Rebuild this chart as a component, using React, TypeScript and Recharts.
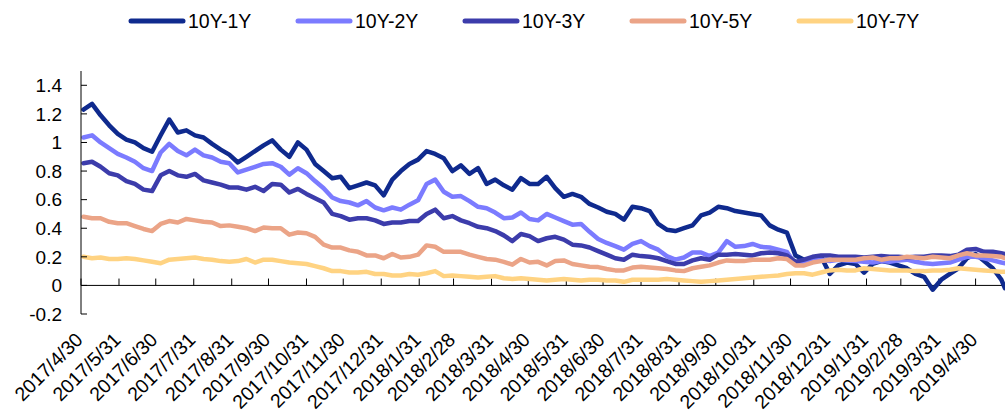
import React from 'react';
import { LineChart, Line, XAxis, YAxis, ReferenceLine, Legend } from 'recharts';

const dates = [
  '2017-05-02','2017-05-09','2017-05-16','2017-05-23','2017-05-30','2017-06-06','2017-06-13','2017-06-20','2017-06-27',
  '2017-07-04','2017-07-11','2017-07-18','2017-07-25','2017-08-01','2017-08-08','2017-08-15','2017-08-22','2017-08-29',
  '2017-09-05','2017-09-12','2017-09-19','2017-09-26','2017-10-03','2017-10-10','2017-10-17','2017-10-24','2017-10-31',
  '2017-11-07','2017-11-14','2017-11-21','2017-11-28','2017-12-05','2017-12-12','2017-12-19','2017-12-26',
  '2018-01-02','2018-01-09','2018-01-16','2018-01-23','2018-01-30','2018-02-06','2018-02-13','2018-02-20','2018-02-27',
  '2018-03-06','2018-03-13','2018-03-20','2018-03-27','2018-04-03','2018-04-10','2018-04-17','2018-04-24',
  '2018-05-01','2018-05-08','2018-05-15','2018-05-22','2018-05-29','2018-06-05','2018-06-12','2018-06-19','2018-06-26',
  '2018-07-03','2018-07-10','2018-07-17','2018-07-24','2018-07-31','2018-08-07','2018-08-14','2018-08-21','2018-08-28',
  '2018-09-04','2018-09-11','2018-09-18','2018-09-25','2018-10-02','2018-10-09','2018-10-16','2018-10-23','2018-10-30',
  '2018-11-06','2018-11-13','2018-11-20','2018-11-27','2018-12-04','2018-12-11','2018-12-18','2018-12-25',
  '2019-01-01','2019-01-08','2019-01-15','2019-01-22','2019-01-29','2019-02-05','2019-02-12','2019-02-19','2019-02-26',
  '2019-03-05','2019-03-12','2019-03-19','2019-03-26','2019-04-02','2019-04-09','2019-04-16','2019-04-23','2019-04-30',
  '2019-05-07','2019-05-14','2019-05-21','2019-05-24'
];

const y10m1 = [
  1.23,1.27,1.19,1.12,1.06,1.02,1.0,0.96,0.935,
  1.05,1.16,1.07,1.085,1.05,1.035,0.99,0.95,0.915,
  0.86,0.9,0.94,0.98,1.015,0.95,0.9,1.0,0.95,
  0.85,0.8,0.75,0.76,0.68,0.7,0.72,0.7,
  0.63,0.74,0.8,0.85,0.88,0.94,0.92,0.89,0.8,
  0.84,0.78,0.82,0.71,0.74,0.7,0.67,0.75,
  0.71,0.71,0.76,0.68,0.62,0.64,0.62,0.57,0.545,
  0.515,0.5,0.46,0.55,0.54,0.52,0.43,0.39,0.38,
  0.4,0.42,0.49,0.51,0.55,0.54,0.52,0.51,0.5,
  0.49,0.42,0.39,0.37,0.21,0.18,0.18,0.2,
  0.08,0.14,0.16,0.15,0.09,0.15,0.17,0.16,0.14,
  0.12,0.08,0.06,-0.03,0.04,0.08,0.12,0.19,0.22,
  0.17,0.12,0.04,-0.02
];

const y10m2 = [
  1.035,1.05,1.0,0.96,0.92,0.895,0.865,0.82,0.8,
  0.93,0.99,0.94,0.91,0.95,0.91,0.895,0.865,0.855,
  0.79,0.81,0.83,0.85,0.855,0.83,0.775,0.82,0.785,
  0.73,0.68,0.615,0.59,0.58,0.56,0.59,0.545,
  0.525,0.545,0.53,0.565,0.595,0.71,0.74,0.655,0.62,
  0.625,0.59,0.55,0.54,0.51,0.47,0.475,0.51,
  0.465,0.455,0.5,0.475,0.45,0.425,0.43,0.375,0.325,
  0.297,0.275,0.25,0.29,0.31,0.275,0.25,0.205,0.18,
  0.195,0.23,0.23,0.205,0.23,0.31,0.27,0.275,0.29,
  0.27,0.265,0.25,0.235,0.15,0.155,0.175,0.18,
  0.17,0.18,0.175,0.17,0.165,0.16,0.17,0.165,0.175,
  0.18,0.165,0.155,0.15,0.155,0.16,0.18,0.2,0.2,
  0.19,0.175,0.16,0.155
];

const y10m3 = [
  0.855,0.865,0.83,0.785,0.77,0.73,0.71,0.67,0.66,
  0.77,0.8,0.77,0.76,0.78,0.735,0.72,0.705,0.685,
  0.685,0.67,0.69,0.66,0.71,0.705,0.65,0.675,0.64,
  0.61,0.58,0.5,0.485,0.46,0.47,0.47,0.455,
  0.43,0.44,0.44,0.45,0.45,0.5,0.53,0.47,0.485,
  0.455,0.435,0.41,0.4,0.38,0.35,0.31,0.36,
  0.345,0.31,0.33,0.34,0.32,0.285,0.28,0.265,0.24,
  0.215,0.19,0.18,0.215,0.205,0.2,0.19,0.17,0.15,
  0.15,0.175,0.19,0.18,0.215,0.215,0.22,0.215,0.21,
  0.225,0.23,0.225,0.21,0.165,0.18,0.2,0.21,
  0.21,0.2,0.2,0.2,0.195,0.2,0.205,0.2,0.2,
  0.195,0.2,0.2,0.21,0.21,0.205,0.215,0.25,0.255,
  0.235,0.235,0.225,0.22
];

const y10m5 = [
  0.48,0.47,0.47,0.445,0.435,0.435,0.415,0.395,0.38,
  0.43,0.45,0.44,0.465,0.455,0.445,0.44,0.415,0.42,
  0.41,0.4,0.38,0.405,0.4,0.4,0.355,0.37,0.365,
  0.34,0.285,0.265,0.265,0.245,0.235,0.21,0.21,
  0.19,0.22,0.195,0.2,0.215,0.28,0.27,0.235,0.235,
  0.235,0.215,0.2,0.185,0.18,0.165,0.145,0.185,
  0.16,0.165,0.14,0.17,0.175,0.15,0.14,0.13,0.128,
  0.115,0.105,0.105,0.125,0.13,0.125,0.12,0.115,0.105,
  0.1,0.12,0.13,0.14,0.16,0.175,0.17,0.17,0.18,
  0.18,0.18,0.19,0.185,0.14,0.14,0.16,0.17,
  0.18,0.18,0.18,0.18,0.19,0.195,0.18,0.19,0.19,
  0.2,0.195,0.19,0.2,0.195,0.19,0.21,0.225,0.21,
  0.21,0.205,0.2,0.19
];

const y10m7 = [
  0.2,0.19,0.195,0.185,0.185,0.19,0.185,0.175,0.165,
  0.155,0.18,0.185,0.19,0.195,0.185,0.18,0.17,0.165,
  0.17,0.185,0.16,0.18,0.18,0.17,0.16,0.155,0.15,
  0.135,0.12,0.1,0.1,0.09,0.09,0.095,0.08,
  0.08,0.07,0.07,0.08,0.075,0.085,0.1,0.065,0.07,
  0.065,0.06,0.055,0.06,0.065,0.05,0.045,0.05,
  0.045,0.04,0.035,0.04,0.045,0.04,0.035,0.04,0.04,
  0.035,0.035,0.025,0.04,0.04,0.04,0.04,0.045,0.04,
  0.035,0.03,0.025,0.03,0.035,0.04,0.045,0.05,0.055,
  0.06,0.065,0.07,0.08,0.085,0.085,0.075,0.09,
  0.105,0.11,0.105,0.105,0.12,0.115,0.11,0.105,0.105,
  0.105,0.1,0.1,0.105,0.105,0.11,0.12,0.115,0.11,
  0.105,0.1,0.095,0.095
];

const seriesNames = ['10Y-1Y', '10Y-2Y', '10Y-3Y', '10Y-5Y', '10Y-7Y'];
const seriesKeys = ['s1', 's2', 's3', 's5', 's7'];
const seriesColors = ['#0F2A8E', '#7B7BFF', '#3C3CAB', '#EBA487', '#FFD382'];

const xTickLabels = [
  '2017/4/30','2017/5/31','2017/6/30','2017/7/31','2017/8/31','2017/9/30','2017/10/31','2017/11/30','2017/12/31',
  '2018/1/31','2018/2/28','2018/3/31','2018/4/30','2018/5/31','2018/6/30','2018/7/31','2018/8/31','2018/9/30',
  '2018/10/31','2018/11/30','2018/12/31','2019/1/31','2019/2/28','2019/3/31','2019/4/30'
];
const yTicks = [-0.2, 0, 0.2, 0.4, 0.6, 0.8, 1, 1.2, 1.4];
const yTickLabels = ['-0.2', '0', '0.2', '0.4', '0.6', '0.8', '1', '1.2', '1.4'];

const FONT = '"Liberation Sans", Arial, sans-serif';

const parseDate = (s: string) => {
  const [y, m, d] = s.split(/[-/]/).map(Number);
  return Date.UTC(y, m - 1, d);
};

const xTicks = xTickLabels.map(parseDate);

const data = dates.map((d, i) => ({
  t: parseDate(d),
  s1: y10m1[i],
  s2: y10m2[i],
  s3: y10m3[i],
  s5: y10m5[i],
  s7: y10m7[i],
}));

const XTick = (props: any) => {
  const { x, y, payload } = props;
  const idx = xTicks.indexOf(payload.value);
  const label = idx >= 0 ? xTickLabels[idx] : '';
  const ax = x + 3;
  const ay = y + 27;
  return (
    <text
      x={ax}
      y={ay}
      transform={`rotate(-45, ${ax}, ${ay})`}
      textAnchor="end"
      fontSize={19.5}
      fontFamily={FONT}
      fill="#000"
    >
      {label}
    </text>
  );
};

const LegendContent = () => (
  <div
    style={{
      display: 'flex',
      alignItems: 'center',
      paddingLeft: 128,
      height: 42,
      fontFamily: FONT,
      fontSize: 19.5,
      color: '#000',
    }}
  >
    {seriesNames.map((n, i) => (
      <div key={n} style={{ display: 'flex', alignItems: 'center', width: 167 }}>
        <svg width={58} height={10} style={{ display: 'block' }}>
          <line x1={3} y1={5} x2={55} y2={5} stroke={seriesColors[i]} strokeWidth={5} strokeLinecap="round" />
        </svg>
        <span style={{ marginLeft: 2, lineHeight: '20px' }}>{n}</span>
      </div>
    ))}
  </div>
);

export default function App() {
  return (
    <div style={{ position: 'absolute', left: 0, top: 0, width: 1007, height: 414, background: '#fff' }}>
      <LineChart width={1007} height={414} data={data} margin={{ top: 71, right: 2, bottom: 0, left: 0 }}>
        <Legend
          verticalAlign="middle"
          align="center"
          layout="horizontal"
          content={<LegendContent />}
          wrapperStyle={{ top: 0, left: 0, width: 1007 }}
        />
        <XAxis
          dataKey="t"
          type="number"
          scale="linear"
          domain={[xTicks[0], 'dataMax']}
          ticks={xTicks}
          interval={0}
          height={100}
          axisLine={false}
          tickLine={false}
          tickSize={0}
          tickMargin={0}
          tick={<XTick />}
          allowDataOverflow
        />
        <YAxis
          type="number"
          domain={[-0.2, 1.5]}
          ticks={yTicks}
          interval={0}
          width={81}
          axisLine={{ stroke: '#000', strokeWidth: 1 }}
          tickLine={{ stroke: '#000', strokeWidth: 1 }}
          tickSize={-6}
          tickMargin={25}
          tickFormatter={(v: number) => yTickLabels[yTicks.indexOf(v)] ?? String(v)}
          tick={{ fontSize: 19, fill: '#000', fontFamily: FONT }}
          allowDataOverflow
        />
        <ReferenceLine y={0} stroke="#000" strokeWidth={1} />
        {xTicks.map((t) => (
          <ReferenceLine
            key={t}
            segment={[{ x: t, y: 0 }, { x: t, y: 0.048 }]}
            stroke="#000"
            strokeWidth={1}
          />
        ))}
        {seriesKeys.map((k, i) => (
          <Line
            key={k}
            dataKey={k}
            name={seriesNames[i]}
            type="linear"
            stroke={seriesColors[i]}
            strokeWidth={4.5}
            strokeLinejoin="round"
            strokeLinecap="round"
            dot={false}
            activeDot={false}
            isAnimationActive={false}
          />
        ))}
      </LineChart>
    </div>
  );
}
